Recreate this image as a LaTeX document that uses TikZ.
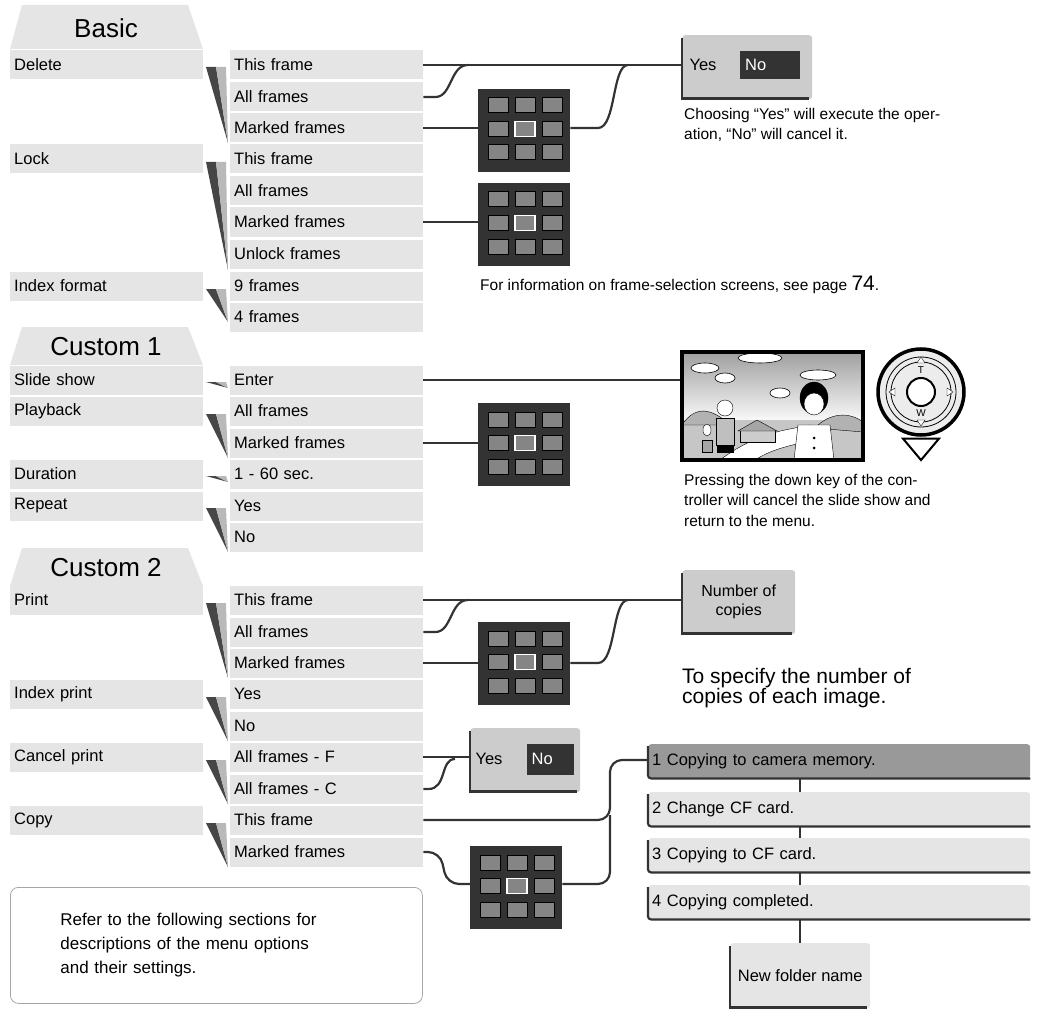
\documentclass[tikz,border=0pt]{standalone}
\usepackage{fontspec}
\setmainfont{Liberation Sans}
\usetikzlibrary{calc,shapes.geometric}
\definecolor{boxg}{gray}{0.9}
\definecolor{ln}{gray}{0.2}
\definecolor{ic}{gray}{0.2}
\definecolor{sqg}{gray}{0.52}
\definecolor{ynb}{gray}{0.8}
\definecolor{dk}{gray}{0.6}
\tikzset{
 lbox/.style={anchor=west,fill=boxg,text width=185pt,inner sep=4pt,minimum height=29pt,font=\fontsize{16.5}{18}\selectfont,align=left},
 con/.style={draw=ln,line width=2.2pt},
 iconbg/.style={anchor=north west,fill=ic,minimum width=92pt,minimum height=83pt,inner sep=0pt},
 sq/.style={fill=sqg,draw=black,line width=1pt},
 hdr/.style={fill=boxg},
 note/.style={anchor=north west,align=left,font=\fontsize{15.5}{20.5}\selectfont,inner sep=0pt},
 cbox/.style={anchor=north west,fill=boxg,minimum width=382pt,minimum height=34pt,inner sep=4pt,text width=374pt,font=\fontsize{16.5}{18}\selectfont,align=left,rounded corners=3pt},
}
\newcommand\fsel[3]{\node[iconbg] (#1) at (#2,#3) {};
 \foreach \i in {0,1,2}{\foreach \j in {0,1,2}{\filldraw[sq] ($(#1.north west)+(10+27*\i,9+23.5*\j)$) rectangle ++(20,15);}}
 \draw[white,line width=1.5pt] ($(#1.north west)+(37,32.5)$) rectangle ++(20,15);}
\newcommand\wdg[2]{\fill[gray!55!black] (206,#1) -- (216,#1) -- (228,#2) -- cycle;
 \fill[gray!55] (216,#1) -- (226,#1) -- (228,#2) -- cycle;}
\newcommand\hdrbox[4]{\fill[hdr] (10,#3) -- (22,#2) -- (188,#2) -- (203,#3) -- cycle;
 \node[font=\fontsize{26}{28}\selectfont] (#1) at (106,{(#2+#3)/2+1}) {#4};}
\newcommand\ynbox[3]{\node[anchor=north west,fill=ynb,minimum width=#3,minimum height=64pt,rounded corners=3pt,inner sep=0pt] (#1) at (#2) {};
 \draw[line width=2.5pt,draw=ln] ([yshift=-3pt]#1.north west) -- ([yshift=1pt]#1.south west) -- ([xshift=-3pt,yshift=1pt]#1.south east);}
\begin{document}
\begin{tikzpicture}[x=1pt,y=-1pt]
\useasboundingbox (0,0) rectangle (1037,1014);
% headers
\hdrbox{hb}{5}{49}{Basic}
\hdrbox{hc1}{327}{365}{Custom 1}
\hdrbox{hc2}{548}{586}{Custom 2}
% left column
\node[lbox] (delete) at (10,65) {Delete};
\node[lbox] (lock) at (10,159) {Lock};
\node[lbox] (idxf) at (10,286) {Index format};
\node[lbox] (slide) at (10,380) {Slide show};
\node[lbox] (play) at (10,411) {Playback};
\node[lbox] (dur) at (10,474) {Duration};
\node[lbox] (rep) at (10,506) {Repeat};
\node[lbox] (print) at (10,600) {Print};
\node[lbox] (iprint) at (10,694) {Index print};
\node[lbox] (cprint) at (10,757) {Cancel print};
\node[lbox] (copy) at (10,820) {Copy};
% right column
\node[lbox] (d1) at (230,65) {This frame};
\node[lbox] (d2) at (230,97) {All frames};
\node[lbox] (d3) at (230,128) {Marked frames};
\node[lbox] (l1) at (230,159) {This frame};
\node[lbox] (l2) at (230,191) {All frames};
\node[lbox] (l3) at (230,222) {Marked frames};
\node[lbox] (l4) at (230,254) {Unlock frames};
\node[lbox] (i1) at (230,286) {9 frames};
\node[lbox] (i2) at (230,317) {4 frames};
\node[lbox] (s1) at (230,380) {Enter};
\node[lbox] (p1) at (230,411) {All frames};
\node[lbox] (p2) at (230,443) {Marked frames};
\node[lbox] (du1) at (230,474) {1 - 60 sec.};
\node[lbox] (r1) at (230,506) {Yes};
\node[lbox] (r2) at (230,537) {No};
\node[lbox] (pr1) at (230,600) {This frame};
\node[lbox] (pr2) at (230,632) {All frames};
\node[lbox] (pr3) at (230,663) {Marked frames};
\node[lbox] (ip1) at (230,694) {Yes};
\node[lbox] (ip2) at (230,726) {No};
\node[lbox] (cp1) at (230,757) {All frames - F};
\node[lbox] (cp2) at (230,789) {All frames - C};
\node[lbox] (co1) at (230,820) {This frame};
\node[lbox] (co2) at (230,852) {Marked frames};
% wedges
\wdg{67}{143}\wdg{162}{270}\wdg{289}{322}\wdg{382}{388}\wdg{414}{458}
\wdg{476}{482}\wdg{508}{552}\wdg{603}{678}\wdg{697}{741}\wdg{760}{804}\wdg{823}{867}
% icons
\fsel{ic1}{478}{89}
\fsel{ic2}{478}{183}
\fsel{ic3}{478}{403}
\fsel{ic4}{478}{622}
\fsel{ic5}{470}{846}
% yes/no boxes
\ynbox{yn1}{682,35}{130pt}
\node[anchor=west,font=\fontsize{16.5}{18}\selectfont] (yes1) at (686,65) {Yes};
\node[fill=ic,text=white,anchor=west,minimum width=60pt,minimum height=28pt,font=\fontsize{16.5}{18}\selectfont,text width=50pt] (no1) at (740,65) {No};
\ynbox{yn2}{470,728}{110pt}
\node[anchor=west,font=\fontsize{16.5}{18}\selectfont] (yes2) at (472,759) {Yes};
\node[fill=ic,text=white,anchor=west,minimum width=47pt,minimum height=31pt,font=\fontsize{16.5}{18}\selectfont,text width=38pt] (no2) at (527,759) {No};
% number of copies
\ynbox{nc}{682,570}{113pt}
\node[align=center,font=\fontsize{16}{19}\selectfont] (nct) at (nc.center) {Number of\\copies};
% notes
\node[note] (n1) at (684,108) {Choosing “Yes” will execute the oper-\\ation, “No” will cancel it.};
\node[note] (n2) at (480,276) {For information on frame-selection screens, see page {\fontsize{21}{22}\selectfont 74}.};
\node[note] (n3) at (684,474) {Pressing the down key of the con-\\troller will cancel the slide show and\\return to the menu.};
\node[note,font=\fontsize{21}{20}\selectfont] (n4) at (682,668) {To specify the number of\\copies of each image.};
% slide picture
\begin{scope}
\clip (682,352) rectangle (863,460);
\shade[top color=gray!75,bottom color=white] (682,352) rectangle (863,425);
\fill[gray!45] (682,420) rectangle (863,460);
\fill[white,draw=black] (720,460) .. controls (760,430) and (790,430) .. (810,425) -- (815,440) .. controls (790,445) and (770,450) .. (755,460) -- cycle;
\foreach \cx/\cy/\rx in {705/368/14,760/358/22,818/375/18,780/393/10,725/378/10}{\filldraw[fill=white,draw=black,line width=0.6pt] (\cx,\cy) ellipse (\rx pt and 5pt);}
\filldraw[fill=gray!60,draw=black] (682,425) .. controls (695,405) and (712,408) .. (730,425) -- cycle;
\filldraw[fill=gray!60,draw=black] (815,428) .. controls (830,412) and (850,412) .. (863,422) -- (863,432) -- cycle;
\filldraw[fill=gray!40,draw=black] (740,430) rectangle (775,442);
\filldraw[fill=gray!70,draw=black] (738,431) -- (757,420) -- (777,431) -- cycle;
\filldraw[fill=white,draw=black] (725,408) circle (8pt);
\filldraw[fill=gray!50,draw=black] (716,418) rectangle (734,445);
\filldraw[fill=black] (717,445) rectangle (733,452);
\filldraw[fill=gray!70,draw=black] (702,440) rectangle (712,452);
\filldraw[fill=white,draw=black] (707,430) ellipse (4pt and 6pt);
\filldraw[fill=black] (814,398) ellipse (14pt and 16pt);
\filldraw[fill=white,draw=black] (814,404) ellipse (10pt and 11pt);
\filldraw[fill=white,draw=black] (794,460) -- (798,425) -- (830,425) -- (834,460) -- cycle;
\fill (814,438) circle (1.5pt) (814,448) circle (1.5pt);
\end{scope}
\node[draw=black,line width=4pt,minimum width=181pt,minimum height=108pt,inner sep=0pt] (pic) at (772.5,406) {};
% controller
\node[circle,draw=black,line width=3.5pt,minimum size=86pt,inner sep=0pt,fill=gray!15] (ctrl) at (921,392) {};
\draw[line width=0.8pt] (ctrl.center) circle (35pt) (ctrl.center) circle (30pt);
\draw[line width=2pt,fill=white] (ctrl.center) circle (14pt);
\node[font=\fontsize{10}{10}\selectfont] at (921,370) {T};
\node[font=\fontsize{10}{10}\selectfont] at (921,413) {W};
\draw[fill=white] (921,357) -- (917,363) -- (925,363) -- cycle;
\draw[fill=white] (921,426) -- (917,420) -- (925,420) -- cycle;
\draw[fill=white] (889,392) -- (895,388) -- (895,396) -- cycle;
\draw[fill=white] (953,392) -- (947,388) -- (947,396) -- cycle;
\node[draw=black,line width=2pt,fill=white,isosceles triangle,shape border rotate=-90,isosceles triangle apex angle=80,minimum width=36pt,minimum height=14pt,inner sep=0pt] (down) at (921,447) {};
% copy chain
\node[cbox,fill=dk] (c1) at (648,744) {1 Copying to camera memory.};
\node[cbox] (c2) at (648,792) {2 Change CF card.};
\node[cbox] (c3) at (648,838) {3 Copying to CF card.};
\node[cbox] (c4) at (648,885) {4 Copying completed.};
\foreach \c in {c1,c2,c3,c4}{\draw[line width=2.2pt,draw=ln,rounded corners=3pt] ([yshift=-2pt]\c.north west) -- (\c.south west) -- (\c.south east);}
\node[anchor=north west,fill=boxg,minimum width=140pt,minimum height=65pt,rounded corners=3pt,font=\fontsize{16.5}{18}\selectfont,inner sep=2pt] (nf) at (730,943) {New folder name};
\draw[line width=2.5pt,draw=ln] ([yshift=-3pt]nf.north west) -- ([yshift=1pt]nf.south west) -- ([xshift=-3pt,yshift=1pt]nf.south east);
\draw[con] (c1.south -| nf) -- (c2.north -| nf) (c2.south -| nf) -- (c3.north -| nf) (c3.south -| nf) -- (c4.north -| nf) (c4.south -| nf) -- (nf.north);
% bottom note
\node[anchor=north west,draw=gray!70,line width=0.8pt,rounded corners=8pt,minimum width=412pt,minimum height=116pt,text width=312pt,align=left,font=\fontsize{17}{24}\selectfont,inner xsep=50pt] (ref) at (10,887) {Refer to the following sections for\\descriptions of the menu options\\and their settings.};
% connectors
\draw[con] (d1.east) -- (yn1.west |- d1);
\coordinate (j1) at (468,65);
\draw[con] (d2.east) -- ++(12,0) .. controls (452,97) and (450,65) .. (j1);
\draw[con] (d3.east) -- (ic1.west |- d3);
\coordinate (j2) at (628,65);
\draw[con] (ic1.east |- d3) -- (598,128) .. controls (616,128) and (612,65) .. (j2);
\draw[con] (l3.east) -- (ic2.west |- l3);
\draw[con] (s1.east) -- (pic.west |- s1);
\draw[con] (p2.east) -- (ic3.west |- p2);
\draw[con] (pr1.east) -- (nc.west |- pr1);
\coordinate (j3) at (468,600);
\draw[con] (pr2.east) -- ++(12,0) .. controls (452,632) and (450,600) .. (j3);
\draw[con] (pr3.east) -- (ic4.west |- pr3);
\coordinate (j4) at (628,600);
\draw[con] (ic4.east |- pr3) -- (598,663) .. controls (616,663) and (612,600) .. (j4);
\draw[con] (cp1.east) -- (yn2.west |- cp1);
\coordinate (j5) at (455,759);
\draw[con] (cp2.east) -- ++(5,0) .. controls (447,789) and (440,759) .. (j5);
\draw[con,rounded corners=12pt] (co1.east) -- (610,820) -- (610,760) -- (c1.west |- 0,760);
\draw[con,rounded corners=12pt] (co2.east) -- (440,852) -- (447,884) -- (ic5.west |- 0,884);
\draw[con,rounded corners=12pt] (ic5.east |- 0,884) -- (610,884) -- (610,815);
\end{tikzpicture}
\end{document}
